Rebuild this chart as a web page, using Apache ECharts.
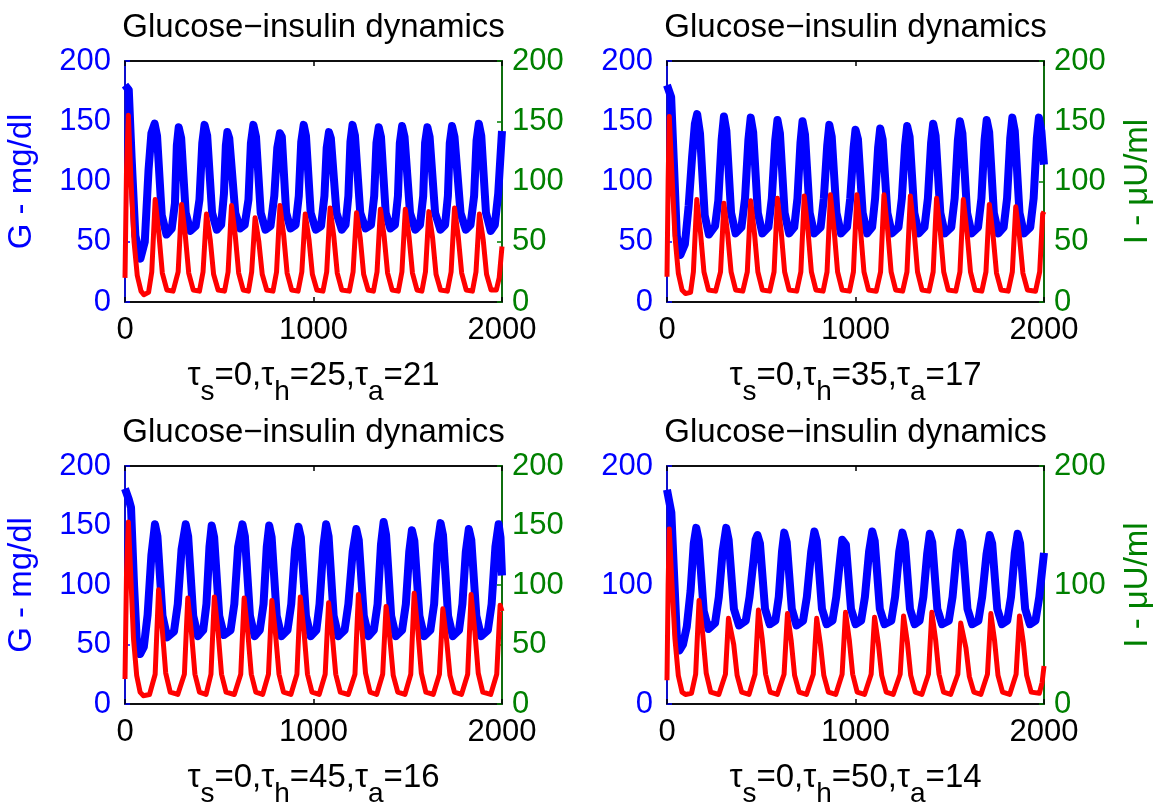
<!DOCTYPE html>
<html>
<head>
<meta charset="UTF-8">
<title>Glucose-insulin dynamics</title>
<script src="https://cdn.jsdelivr.net/npm/echarts/dist/echarts.min.js"></script>
<style>
  html, body { margin: 0; padding: 0; background: #fff; }
  #main { width: 1159px; height: 809px; }
</style>
</head>
<body>
<div id="main"></div>
<script>
// glucose (G, mg/dl) and insulin (I, uU/ml) traces, [time, value]
var g1 = [[0,180],[20,176],[35,120],[55,55],[82,36],[105,50],[125,110],[140,140],[157,148],[170,138],[195,72],[220,56],
  [248,61],[265,82],[275,130],[285,145],[298,136],[322,74],[347,59],[375,63],[395,85],[410,132],[422,147],[436,138],[462,74],[487,60],
  [510,64],[525,90],[535,130],[543,141],[553,136],[585,74],[611,61],[635,64],[655,85],[668,132],[681,147],[695,137],[720,74],[745,60],
  [772,63],[792,88],[808,128],[822,140],[832,137],[855,74],[878,61],[905,64],[922,88],[935,133],[948,147],[960,138],[985,74],[1012,60],
  [1040,63],[1058,88],[1070,128],[1082,141],[1092,136],[1122,74],[1150,60],[1170,64],[1185,88],[1196,133],[1207,147],[1220,138],[1248,74],[1276,61],
  [1305,64],[1322,88],[1334,132],[1346,145],[1358,137],[1383,74],[1408,61],[1432,64],[1448,88],[1458,132],[1470,146],[1483,137],[1512,74],[1540,60],
  [1565,64],[1582,88],[1592,132],[1604,145],[1616,137],[1645,74],[1673,60],[1698,64],[1713,88],[1723,132],[1735,146],[1748,137],[1780,74],[1808,60],
  [1833,64],[1852,88],[1865,134],[1877,148],[1890,138],[1915,74],[1940,59],[1962,64],[1980,90],[2000,142]];
var i1 = [[0,20],[8,110],[18,155],[32,100],[48,50],[65,22],[85,9],[100,6],[125,8],[142,25],[160,85],[180,56],[198,24],[222,10],[255,9],
  [282,25],[300,81],[320,55],[338,24],[362,10],[395,9],[414,25],[432,73],[452,52],[470,23],[494,10],[528,9],[547,25],[565,80],[585,55],[603,24],
  [627,10],[655,9],[672,25],[690,70],[710,50],[728,23],[752,10],[785,9],[804,25],[822,80],[842,55],[860,24],[884,10],[918,9],[938,25],[956,73],
  [976,52],[994,23],[1018,10],[1050,9],[1070,25],[1088,78],[1108,54],[1126,24],[1150,10],[1190,9],[1210,25],[1228,74],[1248,53],[1266,23],
  [1290,10],[1318,9],[1337,25],[1355,77],[1375,54],[1393,24],[1417,10],[1450,9],[1469,25],[1487,77],[1507,54],[1525,24],[1549,10],[1575,9],
  [1594,25],[1612,75],[1632,53],[1650,23],[1674,10],[1710,9],[1730,25],[1748,78],[1768,54],[1786,24],[1810,10],[1843,9],[1862,25],[1880,73],
  [1900,52],[1918,23],[1942,10],[1970,10],[1985,20],[2000,46]];

var g2 = [[0,180],[22,170],[38,110],[52,55],[71,39],[95,48],[115,80],[133,120],[148,148],[160,156],[175,140],[200,72],[222,56],
  [255,63],[272,84],[290,135],[302,154],[315,142],[340,74],[364,57],[395,62],[414,86],[432,135],[444,153],[457,141],[482,74],[506,57],
  [538,62],[556,86],[574,134],[586,151],[599,140],[624,74],[648,57],[675,62],[692,86],[708,132],[719,150],[732,139],[757,74],[781,57],
  [815,62],[832,86],[850,130],[861,147],[874,137],[899,74],[923,57],[955,62],[972,86],[990,128],[1000,143],[1013,135],[1038,74],[1062,57],
  [1088,62],[1104,86],[1120,128],[1131,144],[1144,135],[1169,74],[1193,57],[1228,62],[1246,86],[1263,130],[1274,146],[1287,137],[1312,74],[1336,57],
  [1366,62],[1384,86],[1401,132],[1412,148],[1425,138],[1450,74],[1474,57],[1508,62],[1526,86],[1543,134],[1554,150],[1567,140],[1592,74],[1616,57],
  [1650,62],[1668,86],[1685,135],[1696,151],[1709,141],[1734,74],[1758,57],[1786,62],[1804,86],[1821,136],[1832,153],[1845,142],[1870,74],[1894,57],
  [1927,62],[1945,86],[1962,136],[1973,153],[1986,142],[2000,114]];
var i2 = [[0,21],[6,100],[12,154],[25,110],[42,55],[60,24],[80,10],[98,7],[125,8],[140,25],[158,85],[178,57],[196,25],[220,10],[258,9],
  [284,25],[302,82],[322,56],[340,25],[364,10],[402,9],[426,25],[444,84],[464,57],[482,25],[506,10],[545,9],[568,25],[586,86],[606,58],[624,25],
  [648,10],[688,9],[710,25],[728,88],[748,59],[766,25],[790,10],[828,9],[849,25],[867,89],[887,59],[905,25],[929,10],[968,9],[989,25],[1007,89],
  [1027,59],[1045,25],[1069,10],[1110,9],[1133,25],[1151,89],[1171,59],[1189,25],[1213,10],[1250,9],[1273,25],[1291,88],[1311,59],[1329,25],
  [1353,10],[1390,9],[1412,25],[1430,86],[1450,58],[1468,25],[1492,10],[1532,9],[1554,25],[1572,85],[1592,57],[1610,25],[1634,10],[1670,9],
  [1692,25],[1710,81],[1730,55],[1748,24],[1772,10],[1810,9],[1832,25],[1850,79],[1870,54],[1888,24],[1912,10],[1955,9],[1977,25],[1993,73],[2000,75]];

var g3 = [[0,181],[20,172],[32,165],[48,100],[62,55],[80,42],[100,48],[120,75],[140,125],[159,151],[172,141],[199,74],[224,56],
  [260,61],[280,84],[300,130],[322,151],[335,141],[362,74],[387,57],[415,62],[432,84],[448,132],[460,150],[473,140],[500,74],[525,58],
  [560,62],[580,84],[600,132],[623,151],[636,141],[663,74],[688,57],[715,62],[735,84],[752,132],[765,150],[778,140],[805,74],[830,57],
  [862,62],[882,84],[902,130],[920,149],[933,140],[960,74],[985,57],[1015,62],[1032,84],[1052,132],[1067,151],[1080,141],[1107,74],[1132,57],
  [1165,62],[1185,84],[1208,128],[1227,147],[1240,138],[1267,74],[1292,57],[1320,62],[1340,84],[1358,134],[1372,153],[1385,142],[1412,74],[1437,57],
  [1470,62],[1490,84],[1508,128],[1522,146],[1535,137],[1562,74],[1587,57],[1620,62],[1640,84],[1658,134],[1674,152],[1687,142],[1714,74],[1739,57],
  [1772,62],[1790,84],[1808,128],[1824,147],[1837,138],[1864,74],[1889,57],[1925,62],[1945,84],[1965,132],[1982,151],[1992,140],[2000,108]];
var i3 = [[0,21],[8,110],[18,153],[30,110],[45,55],[62,24],[80,10],[97,7],[130,8],[160,25],[178,96],[198,62],[216,26],[240,10],[280,8],
  [315,25],[333,89],[353,59],[371,25],[395,10],[430,8],[456,25],[474,90],[494,60],[512,25],[536,10],[580,8],[614,25],[632,89],[652,59],[670,25],
  [694,10],[730,8],[761,25],[779,87],[799,58],[817,25],[841,10],[880,8],[912,25],[930,90],[950,60],[968,25],[992,10],[1030,8],[1062,25],[1080,85],
  [1100,57],[1118,25],[1142,10],[1185,8],[1220,25],[1238,92],[1258,61],[1276,26],[1300,10],[1335,8],[1367,25],[1385,82],[1405,55],[1423,24],
  [1447,10],[1485,8],[1516,25],[1534,93],[1554,61],[1572,26],[1596,10],[1635,8],[1668,25],[1686,80],[1706,54],[1724,24],[1748,10],[1785,8],
  [1818,25],[1836,92],[1856,61],[1874,26],[1898,10],[1940,8],[1972,25],[1990,83],[2000,78]];

var g4 = [[0,180],[23,161],[40,100],[52,58],[66,45],[85,50],[105,65],[125,95],[142,135],[155,148],[168,138],[195,78],[220,63],
  [255,68],[275,90],[295,128],[314,148],[327,138],[355,80],[382,66],[418,70],[438,90],[460,122],[470,138],[480,142],[493,135],[520,80],[545,67],
  [575,70],[593,90],[610,128],[622,144],[635,136],[662,80],[687,66],[722,70],[742,90],[765,128],[782,145],[795,137],[822,80],[847,67],
  [878,70],[898,90],[920,124],[930,138],[936,139],[949,134],[976,80],[1001,67],[1030,70],[1050,90],[1072,128],[1089,145],[1102,137],[1129,80],[1154,67],
  [1190,70],[1210,90],[1232,128],[1249,144],[1262,136],[1289,80],[1314,67],[1340,70],[1360,90],[1380,126],[1394,143],[1407,136],[1434,80],[1459,67],
  [1495,70],[1515,90],[1537,128],[1554,144],[1567,136],[1594,80],[1619,67],[1652,70],[1672,90],[1695,126],[1712,142],[1725,135],[1752,80],[1777,67],
  [1805,70],[1825,90],[1845,127],[1860,143],[1873,135],[1900,80],[1925,67],[1955,70],[1975,90],[2000,127]];
var i4 = [[0,20],[6,100],[12,147],[25,105],[42,55],[60,24],[80,10],[98,8],[130,9],[152,25],[170,87],[190,58],[208,26],[232,10],[275,8],
  [310,25],[326,72],[336,71],[354,50],[372,24],[396,10],[435,8],[467,25],[485,79],[505,55],[523,25],[547,10],[585,8],[621,25],[639,76],[659,53],
  [677,24],[701,10],[740,8],[776,25],[794,72],[814,50],[832,24],[856,10],[895,8],[929,25],[947,77],[967,54],[985,25],[1009,10],[1048,8],
  [1083,25],[1101,73],[1121,51],[1139,24],[1163,10],[1200,8],[1237,25],[1255,74],[1275,52],[1293,24],[1317,10],[1352,8],[1387,25],[1405,77],
  [1425,54],[1443,25],[1467,10],[1505,8],[1543,25],[1558,68],[1568,67],[1586,47],[1604,23],[1628,10],[1665,8],[1700,25],[1718,76],[1738,53],
  [1756,24],[1780,10],[1818,8],[1852,25],[1870,74],[1890,52],[1908,24],[1932,10],[1975,9],[1990,18],[2000,32]];

var glucose = [g1, g2, g3, g4];
var insulin = [i1, i2, i3, i4];
var tauS = [0, 0, 0, 0];
var tauH = [25, 35, 45, 50];
var tauA = [21, 17, 16, 14];
var xTicks = [0, 1000, 2000];
var yStep = [50, 50, 50, 100];
var leftName = ['G - mg/dl', '', 'G - mg/dl', ''];
var rightName = ['', 'I - \u03bcU/ml', '', 'I - \u03bcU/ml'];
var titleText = 'Glucose\u2212insulin dynamics';

var FONT = '"Liberation Sans", Arial, Helvetica, sans-serif';
var FS = 31;   // tick labels
var FT = 33;   // titles, axis names
var BLUE = '#0000ff', GREEN = '#008000', RED = '#ff0000';
// plot boxes: left, top, width, height
var boxes = [[125, 61, 377, 241], [667, 61, 377, 241], [125, 466, 377, 240], [667, 466, 377, 240]];

var option = { animation: false, backgroundColor: '#fff', title: [], grid: [], xAxis: [], yAxis: [], series: [] };

function plain(v) { return String(v); }

function yAx(k, side, color, name) {
  return {
    type: 'value', gridIndex: k, position: side, min: 0, max: 200, interval: yStep[k],
    axisLine: { show: true, onZero: false, lineStyle: { color: color, width: 1.5 } },
    axisTick: { show: true, inside: true, length: 5, lineStyle: { color: color, width: 1.5 } },
    axisLabel: { color: color, fontSize: FS, fontFamily: FONT, margin: side == 'left' ? 14 : 10, formatter: plain },
    splitLine: { show: false },
    name: name, nameLocation: 'middle', nameRotate: 90, nameGap: side == 'left' ? 87 : 77,
    nameTextStyle: { color: color, fontSize: FT, fontFamily: FONT }
  };
}

for (var k = 0; k < 4; k++) {
  var b = boxes[k];
  // black frame; the coloured y axis lines are drawn over its sides
  option.grid.push({ left: b[0], top: b[1], width: b[2], height: b[3], show: true, borderColor: '#000', borderWidth: 1.5, backgroundColor: 'transparent' });
  option.title.push({
    text: titleText, left: b[0] + b[2] / 2, top: b[1] - 50, textAlign: 'center', padding: 0,
    textStyle: { fontSize: FT, fontWeight: 'normal', color: '#000', fontFamily: FONT }
  });
  var sub = '{m|\u03c4}{s|s}{m|=' + tauS[k] + ',\u03c4}{s|h}{m|=' + tauH[k] + ',\u03c4}{s|a}{m|=' + tauA[k] + '}';
  option.xAxis.push({
    type: 'value', gridIndex: k, position: 'bottom', min: xTicks[0], max: xTicks[2], interval: xTicks[1] - xTicks[0],
    axisLine: { show: true, onZero: false, lineStyle: { color: '#000', width: 1.5 } },
    axisTick: { show: true, inside: true, length: 5, lineStyle: { color: '#000', width: 1.5 } },
    axisLabel: { color: '#000', fontSize: FS, fontFamily: FONT, margin: 13, formatter: plain },
    splitLine: { show: false },
    name: sub, nameLocation: 'middle', nameGap: 57,
    nameTextStyle: {
      color: '#000', fontFamily: FONT,
      rich: {
        m: { fontSize: FT, lineHeight: FT, verticalAlign: 'top', color: '#000', fontFamily: FONT },
        s: { fontSize: 28, lineHeight: 28, padding: [19, 0, 0, 0], verticalAlign: 'top', color: '#000', fontFamily: FONT }
      }
    }
  });
  // top border with its own inward tick
  option.xAxis.push({
    type: 'value', gridIndex: k, position: 'top', min: xTicks[0], max: xTicks[2], interval: xTicks[1] - xTicks[0],
    axisLine: { show: true, onZero: false, lineStyle: { color: '#000', width: 1.5 } },
    axisTick: { show: true, inside: true, length: 5, lineStyle: { color: '#000', width: 1.5 } },
    axisLabel: { show: false }, splitLine: { show: false }
  });
  option.yAxis.push(yAx(k, 'left', BLUE, leftName[k]));
  option.yAxis.push(yAx(k, 'right', GREEN, rightName[k]));

  option.series.push({
    type: 'line', xAxisIndex: 2 * k, yAxisIndex: 2 * k, data: glucose[k],
    showSymbol: false, symbol: 'none', lineStyle: { color: BLUE, width: 8, join: 'round' }
  });
  option.series.push({
    type: 'line', xAxisIndex: 2 * k, yAxisIndex: 2 * k + 1, data: insulin[k],
    showSymbol: false, symbol: 'none', lineStyle: { color: RED, width: 5, join: 'round' }
  });
}

var myChart = echarts.init(document.getElementById('main'));
myChart.setOption(option);
</script>
</body>
</html>
